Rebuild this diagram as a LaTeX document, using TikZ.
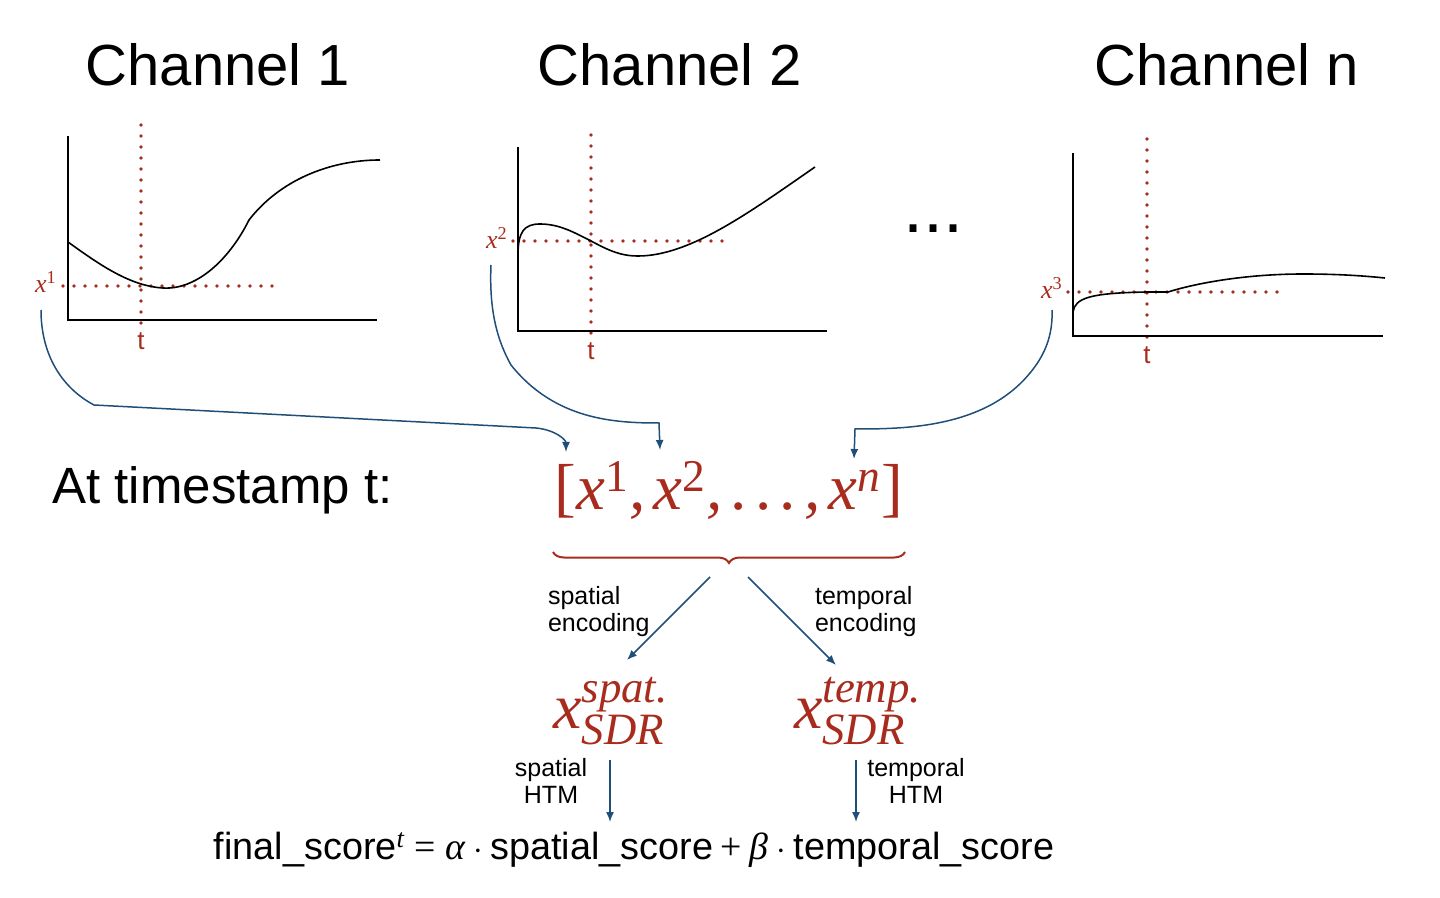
\documentclass[tikz,border=0pt]{standalone}
\usepackage[no-math]{fontspec}
\setmainfont{Liberation Sans}
\newfontfamily\serifmath[NFSSFamily=libserif]{Liberation Serif}
\DeclareSymbolFont{letters}{TU}{libserif}{m}{it}
\DeclareSymbolFont{operators}{TU}{libserif}{m}{n}
\mathcode`,="612C
\mathcode`.="012E
\DeclareMathSymbol{\ldotp}{\mathpunct}{operators}{"2E}
\Umathchardef\alpha="0 "1 "03B1
\Umathchardef\beta="0 "1 "03B2
\usetikzlibrary{positioning}
\usetikzlibrary{arrows.meta}
\usetikzlibrary{decorations.pathreplacing}
\definecolor{chred}{RGB}{168,44,30}
\definecolor{chblue}{RGB}{31,78,121}
\tikzset{
    axis/.style = {draw=black, line width=1pt},
    curve/.style = {draw=black, line width=0.8pt},
    guide/.style = {draw=chred, line width=1.8pt, line cap=round, dash pattern=on 0pt off 5.5pt},
    title/.style = {font=\fontsize{29}{34}\selectfont},
    tick/.style = {text=chred, font=\fontsize{13}{15}\selectfont},
    value/.style = {text=chred, font=\fontsize{13}{15}\selectfont},
    link/.style = {-{Latex[length=5pt,width=4pt]}, draw=chblue, line width=0.75pt},
    note/.style = {font=\fontsize{12.5}{13.5}\selectfont, align=left},
    notec/.style = {font=\fontsize{12.5}{13.5}\selectfont, align=center},
    vecnode/.style = {text=chred, font=\fontsize{32.5}{38}\selectfont},
    sdr/.style = {text=chred, font=\fontsize{32}{38}\selectfont},
    brace/.style = {draw=chred, line width=1pt, decorate, decoration={brace, amplitude=5.5pt}}
}

\begin{document}
\begin{tikzpicture}[x=0.5pt, y=-0.5pt]
  \useasboundingbox (0,0) rectangle (1440,898);

  % titles
  \node[title] (ch1) at (218,65) {Channel 1};
  \node[title] (ch2) at (670,65) {Channel 2};
  \node[title] (chn) at (1227,65) {Channel n};
  \node[font=\fontsize{36}{40}\selectfont] (dots) at (933,229) {...};

  % channel 1
  \draw[guide] (141,125) -- (141,327);
  \draw[guide] (63,286) -- (276,286);
  \draw[axis] (68,136) -- (68,320) -- (377,320);
  \draw[curve] (68,242) .. controls (100,265) and (130,286) .. (163,288)
    .. controls (195,290) and (228,262) .. (249,220)
    .. controls (280,180) and (330,160) .. (380,160);
  \node[value] (lab1) at (46,282) {$x^1$};
  \node[tick] (t1) at (141,341) {t};

  % channel 2
  \draw[guide] (591,135) -- (591,337);
  \draw[guide] (513,241) -- (726,241);
  \draw[axis] (518,147) -- (518,331) -- (827,331);
  \draw[curve] (518,255) .. controls (518,232) and (524,224) .. (540,224)
    .. controls (560,224) and (575,233) .. (591,241)
    .. controls (608,250) and (620,256) .. (638,256)
    .. controls (690,256) and (750,212) .. (815,167);
  \node[value] (lab2) at (497,238) {$x^2$};
  \node[tick] (t2) at (591,351) {t};

  % channel n
  \draw[guide] (1147,139) -- (1147,340);
  \draw[guide] (1068,292) -- (1282,292);
  \draw[axis] (1073,153) -- (1073,336) -- (1383,336);
  \draw[curve] (1073,312) .. controls (1075,298) and (1090,293) .. (1147,292)
    -- (1168,292) .. controls (1200,282) and (1250,274) .. (1303,274)
    .. controls (1340,274) and (1365,276) .. (1385,278);
  \node[value] (lab3) at (1052,288) {$x^3$};
  \node[tick] (t3) at (1147,355) {t};

  % vector at t
  \node[font=\fontsize{25.5}{30}\selectfont, anchor=west, inner sep=0pt] (stamp) at (52,490) {At timestamp t:};
  \node[vecnode] (vec) at (729,490) {$[x^1, x^2, \ldots, x^n]$};
  \draw[brace] (905,552) -- (553,552);

  \coordinate (s1) at (41,310);
  \coordinate (e1) at (566,452);
  \coordinate (s2) at (491,265);
  \coordinate (e2) at (660,450);
  \coordinate (s3) at (1052,310);
  \coordinate (e3) at (854,459);
  \draw[link] (s1) .. controls (41,355) and (62,388) .. (94,405) -- (536,428)
    .. controls (556,430) and (566,440) .. (e1);
  \draw[link] (s2) .. controls (489,310) and (497,340) .. (511,365)
    .. controls (555,420) and (615,423) .. (659,423) -- (e2);
  \draw[link] (s3) .. controls (1053,335) and (1045,355) .. (1030,373)
    .. controls (985,428) and (905,429) .. (855,429) -- (e3);

  % encodings
  \coordinate (b1) at (710,577);
  \coordinate (b2) at (748,577);
  \coordinate (a1) at (627,660);
  \coordinate (a2) at (836,665);
  \draw[link] (b1) -- (a1);
  \draw[link] (b2) -- (a2);
  \node[note, anchor=north west] (enc1) at (541,579) {spatial\\encoding};
  \node[note, anchor=north west] (enc2) at (808,579) {temporal\\encoding};

  \node[sdr] (xs) at (611,711) {$x^{spat.}_{SDR}$};
  \node[sdr] (xt) at (858,711) {$x^{temp.}_{SDR}$};

  % scores
  \coordinate (h1) at (610,760);
  \coordinate (h2) at (856,760);
  \coordinate (g1) at (610,822);
  \coordinate (g2) at (856,822);
  \draw[link] (h1) -- (g1);
  \draw[link] (h2) -- (g2);
  \node[notec, anchor=north] (htm1) at (551,751) {spatial\\HTM};
  \node[notec, anchor=north] (htm2) at (916,751) {temporal\\HTM};

  \node[font=\fontsize{18.9}{22}\selectfont] (score) at (634,850)
    {final\_score$^{t} = \alpha\cdot{}$spatial\_score${}+\beta\cdot{}$temporal\_score};
\end{tikzpicture}
\end{document}
